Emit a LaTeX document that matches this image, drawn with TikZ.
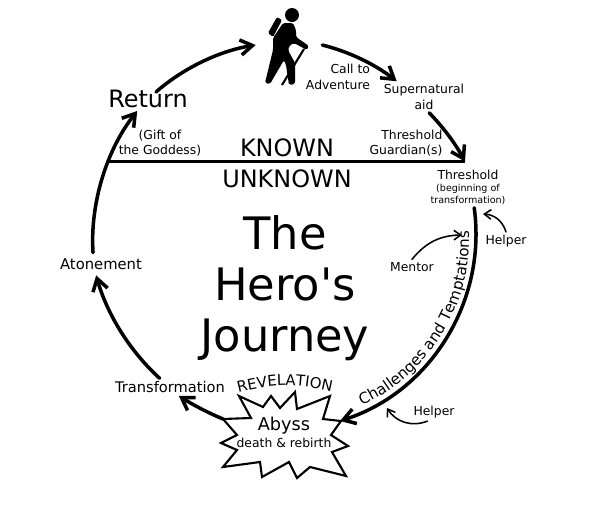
\documentclass[tikz,border=0pt]{standalone}
\usepackage{fontspec}
\setmainfont{DejaVu Sans}
\usetikzlibrary{arrows.meta,decorations.text}

\newcommand{\smalltxt}{\fontsize{6.8}{8.2}\selectfont}

\tikzset{
  flow/.style={line width=2.5pt,line cap=round,looseness=0.85,
    -{Straight Barb[length=3mm,width=3.8mm,line width=2.5pt]}},
  helpflow/.style={line width=1.1pt,line cap=round,
    -{Straight Barb[length=1.7mm,width=2.4mm]}},
  lbl/.style={inner sep=2pt,align=center,font=\fontsize{8.8}{11.2}\selectfont},
  bigvar/.style={inner sep=2pt,align=center,font=\fontsize{17}{20}\selectfont},
  hikerbox/.style={inner sep=0pt,minimum width=1.65cm,minimum height=2.25cm},
}

\begin{document}
\begin{tikzpicture}[x=0.025cm,y=0.025cm]
  \useasboundingbox (0,0) rectangle (600,-515);

  % the stations
  \node[hikerbox] (hiker) at (289,-45) {};
  \node[bigvar] (return) at (148,-99) {Return};
  \node[lbl,align=right] (call) at (338,-77) {Call to\\Adventure};
  \node[lbl] (super) at (424,-97) {Supernatural\\aid};
  \node[lbl,align=right] (guardian) at (406,-143) {Threshold\\Guardian(s)};
  \node[lbl] (threshold) at (468,-187.5) {Threshold\\[-2.7pt]\smalltxt (beginning of\\[-2.8pt]\smalltxt transformation)};
  \node[lbl,font=\fontsize{8.8}{11}\selectfont] (gift) at (160,-143) {(Gift of\\the Goddess)};
  \node[lbl] (mentor) at (412,-267) {Mentor};
  \node[lbl] (helperup) at (506,-241) {Helper};
  \node[lbl] (helperlow) at (434,-412) {Helper};
  \node[lbl,inner ysep=4pt,font=\fontsize{10.5}{13}\selectfont] (atonement) at (101,-264) {Atonement};
  \node[lbl,font=\fontsize{10.4}{13}\selectfont] (transform) at (170,-387) {Transformation};

  \node[bigvar] (known) at (287,-148) {KNOWN};
  \node[bigvar] (unknown) at (287,-179) {UNKNOWN};
  \node[inner sep=0pt,align=center,font=\fontsize{31.8}{36.5}\selectfont] (title) at (285,-288) {The\\Hero\textquotesingle s\\Journey};

  \coordinate (linew) at (107,-161.5);
  \coordinate (linee) at (465,-161.5);
  \coordinate (returnout) at (156,-92);
  \coordinate (burstw) at (223,-419);
  \coordinate (burste) at (340,-421);
  \coordinate (mentorend) at (462,-235);
  \coordinate (helperupend) at (483,-214);
  \coordinate (helperlowend) at (387,-408);

  % the circle
  \draw[flow] (returnout) to[bend left=16] (hiker.west);
  \draw[flow] (hiker.east) to[bend left=12] (super.150);
  \draw[flow] (super.-72) to[bend left=8] (linee);
  \draw[line width=2.5pt] (linew) -- (linee);
  \draw[flow,looseness=0.96] (threshold.-73) to[bend left=40] (burste);
  \draw[flow] (burstw) to[bend left=5] (transform.-45);
  \draw[flow] (transform.140) to[bend left=16] (atonement.-113);
  \draw[flow] (atonement.125) to[bend left=21] (return.-132);

  \draw[helpflow] (mentor.north) to[bend left=25] (mentorend);
  \draw[helpflow] (helperup.north) to[bend right=35] (helperupend);
  \draw[helpflow] (helperlow.-126) to[bend left=40] (helperlowend);

  % the abyss
  \draw[line width=1.5pt,fill=white,line join=miter]
    (223,-419) -- (251,-418) -- (239,-396) -- (263,-407) -- (271,-396) -- (280,-408)
    -- (295,-392) -- (297,-409) -- (330,-396) -- (323,-419) -- (341,-421) -- (331,-435)
    -- (348,-446) -- (332,-452) -- (346,-476) -- (310,-467) -- (297,-478) -- (289,-462)
    -- (262,-477) -- (260,-462) -- (223,-467) -- (237,-450) -- (221,-443) -- (237,-435) -- cycle;
  \node[inner sep=0pt,align=center,font=\fontsize{12.6}{13.5}\selectfont] (abyss) at (284,-432.5)
    {Abyss\\[-1.4pt]\fontsize{8.8}{10.5}\selectfont death \& rebirth};

  % curved words
  \path[decorate,decoration={text along path,text align=center,
    text={|\fontsize{10.6}{12}\selectfont|REVELATION}}]
    (240,-392) to[bend left=13] (330,-391);
  \path[decorate,decoration={text along path,text align=center,
    text={|\fontsize{10.8}{13}\selectfont|Challenges and Temptations}}]
    (361.6,-405.4) arc[start angle=-66,end angle=3,radius=181];

  % the hiker
  \fill (292,-15) circle (7);
  \fill[rounded corners=1pt] (268,-33) -- (277,-17) -- (282,-20) -- (273,-37) -- cycle;
  \fill[rounded corners=1.2pt] (283,-23) -- (293,-23) -- (296,-30) -- (296,-37) -- (309,-46) -- (307,-50)
    -- (294,-43) -- (290,-45) -- (288,-50) -- (295,-63) -- (295,-84) -- (289,-85) -- (286,-65)
    -- (284,-60) -- (270,-84) -- (265,-83) -- (273,-50) -- (273,-38) -- cycle;
  \draw[line width=1.5pt] (304,-49) -- (282,-85);
\end{tikzpicture}
\end{document}
